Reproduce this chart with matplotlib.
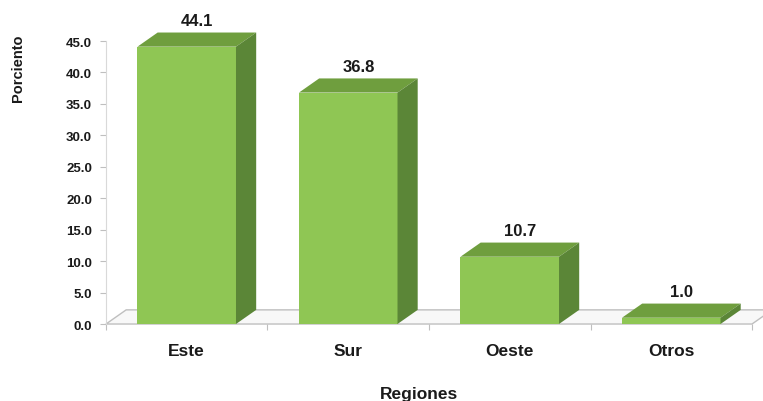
import matplotlib
matplotlib.use("Agg")
import matplotlib.pyplot as plt
from matplotlib.patches import Polygon

regiones = ["Este", "Sur", "Oeste", "Otros"]
porciento = [44.1, 36.8, 10.7, 1.0]
yticks = [0, 5, 10, 15, 20, 25, 30, 35, 40, 45]

plt.rcParams["font.family"] = ["Liberation Sans", "DejaVu Sans"]
plt.rcParams["font.weight"] = "bold"

frente = "#8fc654"
arriba = "#6f9e3e"
lado = "#5b8637"

fig = plt.figure(figsize=(7.63, 4.02), dpi=100)
ax = fig.add_axes([0.1389, 0.1915, 0.8467, 0.704])

ancho = 0.61
dx = 0.125   # profundidad en unidades de categoria
dy = 2.25    # profundidad en unidades del eje y
x = [i + 0.5 for i in range(len(regiones))]

# piso del grafico
piso = Polygon([(0, 0), (4, 0), (4 + dx, dy), (dx, dy)], closed=True,
               facecolor="#f8f8f8", edgecolor="#bfbfbf", lw=1.0,
               clip_on=False, zorder=1)
ax.add_patch(piso)

ax.bar(x, porciento, width=ancho, color=frente, zorder=3, linewidth=0)

for xi, v in zip(x, porciento):
    x0 = xi - ancho / 2
    x1 = xi + ancho / 2
    # cara superior
    ax.add_patch(Polygon([(x0, v), (x1, v), (x1 + dx, v + dy), (x0 + dx, v + dy)],
                         closed=True, facecolor=arriba, edgecolor="none",
                         clip_on=False, zorder=3))
    # cara lateral
    ax.add_patch(Polygon([(x1, 0), (x1 + dx, dy), (x1 + dx, v + dy), (x1, v)],
                         closed=True, facecolor=lado, edgecolor="none",
                         clip_on=False, zorder=3))
    ax.annotate(f"{v:.1f}", (xi + dx / 2, v + dy), xytext=(0, 3),
                textcoords="offset points", ha="center", va="bottom",
                fontsize=12, fontweight="bold", color="#1a1a1a",
                annotation_clip=False)

ax.set_xlim(0, 4)
ax.set_ylim(0, 45)
ax.set_yticks(yticks)
ax.set_yticklabels([f"{t:.1f}" for t in yticks], fontsize=9.5, fontweight="bold",
                   color="#1a1a1a")
ax.set_xticks([0, 1, 2, 3, 4])
ax.set_xticklabels([])
ax.set_xticks(x, minor=True)
ax.set_xticklabels(regiones, minor=True, fontsize=12.5, fontweight="bold",
                   color="#1a1a1a")
ax.tick_params(axis="x", which="minor", length=0, pad=14)
ax.tick_params(axis="x", which="major", length=4, color="#bfbfbf")
ax.tick_params(axis="y", length=4, color="#bfbfbf", pad=6)

for s in ["top", "right", "bottom"]:
    ax.spines[s].set_visible(False)
ax.spines["left"].set_color("#d9d9d9")
ax.patch.set_alpha(0)

fig.text(18 / 763, 1 - 68 / 402, "Porciento", rotation=90, ha="center",
         va="center", fontsize=10.5, fontweight="bold", color="#1a1a1a")
fig.text(419 / 763, 1 - 387 / 402, "Regiones", ha="center", va="top",
         fontsize=12.5, fontweight="bold", color="#1a1a1a")

fig.savefig("out.png", dpi=100)
